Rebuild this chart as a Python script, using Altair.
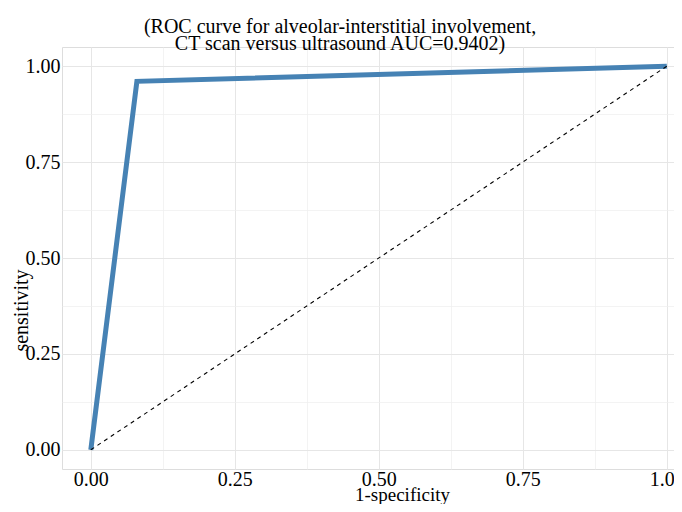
import altair as alt
import pandas as pd

# ROC curve data
fpr = [0.0, 0.08, 1.0]
tpr = [0.0, 0.9604, 1.0]
diag_x = [0.0, 1.0]
diag_y = [0.0, 1.0]
grid_values = [0.0, 0.125, 0.25, 0.375, 0.5, 0.625, 0.75, 0.875, 1.0]
title_lines = ["(ROC curve for alveolar-interstitial involvement,",
               "CT scan versus ultrasound AUC=0.9402)"]

FONT = "Liberation Serif"

roc_df = pd.DataFrame({"fpr": fpr, "tpr": tpr, "order": list(range(len(fpr)))})
diag_df = pd.DataFrame({"fpr": diag_x, "tpr": diag_y, "order": [0, 1]})

grid_width = {"condition": {"test": "datum.value % 0.25 == 0", "value": 1.0}, "value": 0.7}
grid_color = {"condition": {"test": "datum.value % 0.25 == 0", "value": "#E6E6E6"}, "value": "#EEEEEE"}
label_expr = "datum.value % 0.25 == 0 ? format(datum.value, '.2f') : ''"

x_axis = alt.Axis(
    values=grid_values, labelExpr=label_expr, title="1-specificity",
    grid=True, gridColor=grid_color, gridWidth=grid_width,
    ticks=False, domain=False, labelFont=FONT, labelFontSize=20, labelColor="black",
    labelPadding=0, labelOverlap=False, labelFlush=False,
    titleFont=FONT, titleFontSize=19, titleFontWeight="normal", titleColor="black",
    titlePadding=-4, titleX=340, titleAlign="center",
)
y_axis = alt.Axis(
    values=grid_values, labelExpr=label_expr, title="sensitivity",
    grid=True, gridColor=grid_color, gridWidth=grid_width,
    ticks=False, domain=False, labelFont=FONT, labelFontSize=20, labelColor="black",
    labelPadding=2, labelOverlap=False, labelFlush=False,
    titleFont=FONT, titleFontSize=20, titleFontWeight="normal", titleColor="black",
    titleX=-41, titleY=263, titleAlign="center", titleBaseline="middle", titleAngle=270,
)

x_scale = alt.Scale(domain=[-0.05, 1.0125], nice=False, zero=False)
y_scale = alt.Scale(domain=[-0.05, 1.05], nice=False, zero=False)

roc = alt.Chart(roc_df).mark_line(color="#4682B4", strokeWidth=5, clip=True).encode(
    x=alt.X("fpr:Q", scale=x_scale, axis=x_axis),
    y=alt.Y("tpr:Q", scale=y_scale, axis=y_axis),
    order="order:O",
)
diag = alt.Chart(diag_df).mark_line(color="black", strokeWidth=1.1, strokeDash=[4, 4], clip=True).encode(
    x=alt.X("fpr:Q", scale=x_scale),
    y=alt.Y("tpr:Q", scale=y_scale),
    order="order:O",
)

chart = alt.layer(roc, diag).properties(
    width=612, height=422,
    autosize="none",
    padding={"left": 54, "top": 39, "right": 0, "bottom": 35},
    title=alt.TitleParams(
        text=title_lines, font=FONT, fontSize=20, fontWeight="normal", color="black",
        anchor="middle", dx=-28, offset=-7, lineHeight=17,
    ),
).configure_view(stroke=None).configure(background="white")

chart.save("out.html", embed_options={"renderer": "svg", "actions": False})
